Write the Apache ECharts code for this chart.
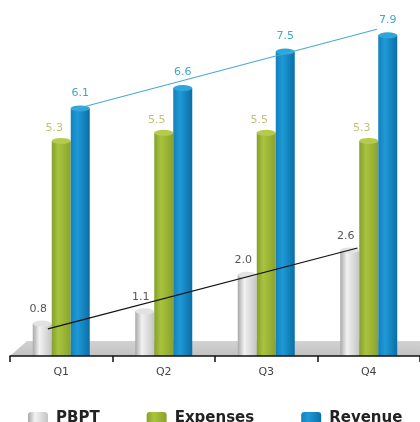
<!DOCTYPE html>
<html><head><meta charset="utf-8">
<script src="https://cdn.jsdelivr.net/npm/echarts@6/dist/echarts.min.js"></script>
<style>html,body{margin:0;padding:0;background:#fff;}#c{width:420px;height:422px;}</style>
</head><body><div id="c"></div>
<script>
var categories = ['Q1', 'Q2', 'Q3', 'Q4'];
var pbpt = [0.8, 1.1, 2.0, 2.6];
var expenses = [5.3, 5.5, 5.5, 5.3];
var revenue = [6.1, 6.6, 7.5, 7.9];
var seriesNames = ['PBPT', 'Expenses', 'Revenue'];
// trend line end values, at first and last category
var revenueTrend = [6.06, 8.05];
var pbptTrend = [0.67, 2.66];

var FONT = 'DejaVu Sans';
var BW = 19;
function grad(c1, c2, c3) {
  return new echarts.graphic.LinearGradient(0, 0, 1, 0, [
    {offset: 0, color: c1}, {offset: 0.35, color: c2}, {offset: 1, color: c3}
  ]);
}
var styles = [
  {fill: grad('#a8a8a8', '#f2f2f2', '#c4c4c4'), cap: '#e2e2e2', label: '#555555', off: -BW, loff: [-4, 0], dist: 9},
  {fill: grad('#86a02c', '#a9c33e', '#8aa22e'), cap: '#b5cb4e', label: '#c3c27a', off: 0, loff: [-7, 0], dist: 7},
  {fill: grad('#1380bd', '#1e9ad6', '#0b6ea6'), cap: '#2ea6dc', label: '#44a6cc', off: BW, loff: [0, 0], dist: 10}
];
var datas = [pbpt, expenses, revenue];
var series = [];
datas.forEach(function (d, i) {
  var s = styles[i];
  series.push({
    name: seriesNames[i], type: 'bar', data: d, barWidth: BW, barGap: 0, z: 3,
    itemStyle: {color: s.fill},
    label: {show: true, position: 'top', distance: s.dist, offset: s.loff, color: s.label,
      fontFamily: FONT, fontSize: 11, formatter: function (p) { return p.value.toFixed(1); }}
  });
});
datas.forEach(function (d, i) {
  var s = styles[i];
  series.push({
    name: seriesNames[i] + ' cap', type: 'pictorialBar', data: d, symbol: 'circle',
    symbolSize: [BW, 6], symbolPosition: 'end', symbolOffset: [s.off, '-50%'], z: 4,
    itemStyle: {color: s.cap}, silent: true
  });
});
series.push({
  name: 'rev trend', type: 'line', xAxisIndex: 1, symbol: 'none', z: 5, silent: true,
  data: [[0 + 0.1, revenueTrend[0]], [3 + 0.08, revenueTrend[1]]],
  lineStyle: {color: '#4aaad0', width: 1.2}
});
series.push({
  name: 'pbpt trend', type: 'line', xAxisIndex: 1, symbol: 'none', z: 5, silent: true,
  data: [[0 - 0.13, pbptTrend[0]], [3 - 0.11, pbptTrend[1]]],
  lineStyle: {color: '#111111', width: 1.2}
});

var chart = echarts.init(document.getElementById('c'), null, {renderer: 'canvas'});
chart.setOption({
  backgroundColor: '#ffffff',
  animation: false,
  grid: {left: 10, width: 417, top: 11, bottom: 66},
  graphic: [{
    type: 'polygon', z: 0,
    shape: {points: [[10, 356], [27, 341], [420, 341], [420, 356]]},
    style: {fill: new echarts.graphic.LinearGradient(0, 0, 0, 1, [
      {offset: 0, color: '#d2d2d2'}, {offset: 1, color: '#c2c2c2'}])}
  }],
  legend: {
    data: seriesNames, left: 23, top: 406, itemGap: 47, itemWidth: 20, itemHeight: 13,
    icon: 'roundRect',
    textStyle: {fontFamily: FONT, fontSize: 15, fontWeight: 'bold', color: '#222222', padding: [0, 0, 0, 3]}
  },
  xAxis: [{
    type: 'category', data: categories, z: 6,
    axisLine: {lineStyle: {color: '#111111', width: 1.5}},
    axisTick: {show: true, length: 6, lineStyle: {color: '#111111', width: 1.5}},
    axisLabel: {fontFamily: FONT, fontSize: 11, color: '#444444', margin: 11}
  }, {
    type: 'value', min: -0.5, max: 3.5, show: false
  }],
  yAxis: {type: 'value', min: 0, max: 8.5, show: false},
  series: series
});
</script></body></html>
